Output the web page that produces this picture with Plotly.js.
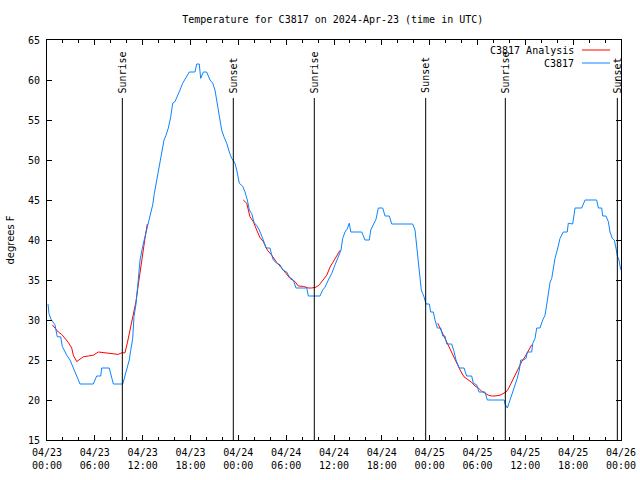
<!DOCTYPE html>
<html>
<head>
<meta charset="utf-8">
<script src="https://cdn.plot.ly/plotly-3.0.1.min.js"></script>
<style>html,body{margin:0;padding:0;background:#fff;}#chart{width:640px;height:480px;}</style>
</head>
<body>
<div id="chart"></div>
<script>
// Hours after 2024-04-23 00:00 UTC
const obsHour = [0.13,0.25,0.50,1.00,1.29,1.72,1.92,2.47,2.89,3.30,3.73,4.14,5.81,6.23,6.74,6.86,7.81,8.32,9.50,9.78,10.07,10.32,10.50,10.75,10.91,11.16,11.45,11.67,12.00,12.29,12.58,12.92,13.26,13.46,13.76,14.05,14.39,14.68,14.93,15.22,15.52,15.77,16.06,16.34,16.68,17.02,17.31,17.60,17.85,18.56,18.78,19.10,19.28,19.61,20.03,20.45,20.79,21.07,21.29,21.49,21.70,21.91,22.20,22.54,22.87,23.17,23.58,23.80,24.12,24.55,24.84,25.13,25.38,25.68,25.97,26.30,26.63,26.93,27.13,27.47,27.97,28.19,28.39,28.81,29.23,29.57,30.07,30.39,30.90,31.23,32.58,32.78,34.24,34.58,34.87,35.29,35.71,36.13,36.54,36.88,37.09,37.38,37.67,37.92,38.10,39.48,39.89,40.43,40.61,40.93,41.27,41.56,42.11,42.40,42.94,43.24,45.87,46.16,46.37,46.58,46.79,46.95,47.13,47.29,47.54,47.96,48.13,48.46,48.67,48.96,49.39,49.64,49.92,50.14,50.76,51.05,51.30,51.72,52.31,52.64,53.27,53.47,53.90,54.19,54.94,55.23,57.36,57.45,57.74,58.08,58.42,58.71,58.99,59.25,59.42,59.75,60.09,60.25,60.80,60.93,61.22,61.43,61.84,62.18,62.47,62.68,62.88,63.10,63.31,63.51,63.72,64.01,64.35,64.76,65.26,65.39,65.94,66.23,67.07,67.49,68.95,69.16,69.58,69.71,70.12,70.41,70.62,70.91,71.16,71.37,71.54,71.75,71.96];
const obsTempF = [32.0,30.8,30.1,29.4,27.9,27.9,26.7,25.6,25.0,24.0,22.9,22.0,22.0,23.0,23.0,24.0,24.0,22.0,22.0,23.0,24.0,25.0,26.2,27.7,30.4,32.0,35.0,37.5,39.2,40.4,41.7,43.1,44.4,45.8,47.5,49.2,50.6,52.5,53.1,54.0,55.4,57.1,57.3,57.9,58.75,59.6,60.1,60.6,61.0,61.0,62.0,62.0,60.2,61.0,61.0,60.0,59.6,58.75,57.5,56.25,55.0,53.75,52.9,52.1,51.0,50.2,49.6,48.75,47.1,46.7,46.0,45.0,43.75,43.3,42.2,41.8,41.25,40.6,40.0,39.0,39.0,38.1,37.5,37.1,36.9,36.25,36.0,35.4,35.0,34.0,34.0,33.0,33.0,33.75,34.1,35.0,35.8,36.9,37.9,38.75,40.2,41.0,41.4,42.1,41.0,41.0,40.0,40.0,41.25,42.0,42.6,44.0,44.0,43.0,43.0,42.0,42.0,41.25,39.2,37.1,35.4,33.75,33.3,32.9,32.0,32.0,31.0,31.0,30.0,29.0,29.0,28.0,28.0,27.0,27.0,26.1,25.0,24.0,24.0,23.0,23.0,22.1,21.9,21.0,21.0,20.0,20.0,19.5,19.0,20.0,21.0,21.7,22.7,23.75,25.0,25.0,25.2,26.0,26.0,27.1,27.7,29.0,29.0,30.0,30.6,31.9,33.3,34.7,35.2,36.4,37.7,38.75,40.2,41.0,41.0,42.1,42.0,44.0,44.0,45.0,45.0,44.0,44.0,43.0,43.0,42.3,41.0,40.2,40.0,39.0,38.0,37.5,36.3];

const anaHour = [0.66,1.42,1.84,2.26,2.67,3.10,3.30,3.73,4.14,4.55,5.18,5.81,6.44,7.28,8.12,8.94,9.37,9.78,10.07,10.32,10.62,10.95,11.16,11.45,11.67,12.00,12.29,12.58,18.0,
  24.62,25.05,25.46,25.88,26.30,26.72,27.13,27.63,28.19,28.81,29.44,29.98,30.48,31.11,31.52,32.15,32.78,33.20,33.74,34.16,34.66,35.09,35.50,35.91,36.34,36.75,42.0,
  49.01,49.30,49.64,50.05,50.47,50.77,51.05,51.47,51.89,52.31,52.85,53.27,53.69,54.10,54.53,54.94,55.36,55.78,56.20,56.83,57.24,57.58,57.87,58.29,58.71,59.13,59.55,59.96,60.38,60.80];
const anaTempF = [29.4,28.5,28.2,27.7,27.2,26.5,25.6,24.8,25.1,25.4,25.5,25.6,26.0,25.9,25.8,25.7,25.9,25.9,27.1,28.3,29.8,31.2,32.3,34.4,36.0,38.5,40.2,42.0,null,
  45.0,44.6,42.9,42.3,41.25,40.3,39.8,38.75,38.1,37.2,36.5,35.75,35.2,34.8,34.25,34.2,34.0,34.0,34.1,34.4,35.0,35.6,36.6,37.3,37.9,38.7,null,
  29.6,29.0,28.1,27.3,26.5,25.8,25.25,24.4,23.6,22.9,22.5,22.2,21.75,21.5,21.1,20.9,20.6,20.5,20.5,20.6,20.8,21.0,21.4,22.3,23.1,24.0,24.8,25.4,26.25,26.9];

const sunEventHour = [9.45, 23.37, 33.53, 47.50, 57.49, 71.54];
const sunEventName = ['Sunrise','Sunset','Sunrise','Sunset','Sunrise','Sunset'];

const seriesNames = ['C3817 Analysis', 'C3817'];
const seriesColors = ['#ff0000', '#0a84ff'];

function toDate(h) {
  const d = new Date(Date.UTC(2024, 3, 23) + Math.round(h * 3600000));
  const p = n => String(n).padStart(2, '0');
  return d.getUTCFullYear() + '-' + p(d.getUTCMonth() + 1) + '-' + p(d.getUTCDate()) + ' ' +
         p(d.getUTCHours()) + ':' + p(d.getUTCMinutes()) + ':' + p(d.getUTCSeconds());
}

const FONT = 'DejaVu Sans Mono, Liberation Mono, monospace';

const traces = [
  {x: anaHour.map(toDate), y: anaTempF, type: 'scatter', mode: 'lines', name: seriesNames[0],
   line: {color: seriesColors[0], width: 1}, connectgaps: false, showlegend: false},
  {x: obsHour.map(toDate), y: obsTempF, type: 'scatter', mode: 'lines', name: seriesNames[1],
   line: {color: seriesColors[1], width: 1}, showlegend: false}
];

const shapes = [];
const annotations = [];
sunEventHour.forEach((h, i) => {
  shapes.push({type: 'line', xref: 'x', yref: 'paper', x0: toDate(h), x1: toDate(h), y0: 0, y1: 0.855,
               line: {color: '#000', width: 1}});
  annotations.push({xref: 'x', yref: 'paper', x: toDate(h), y: 0.862, text: sunEventName[i],
                    textangle: -90, showarrow: false, xanchor: 'center', yanchor: 'bottom',
                    font: {family: FONT, size: 10, color: '#000'}});
});
// Legend (text right-aligned, sample line to the right, as in reference)
const legY = [0.975, 0.9425];
seriesNames.forEach((n, i) => {
  annotations.push({xref: 'paper', yref: 'paper', x: 0.921, y: legY[i], text: n, showarrow: false,
                    xanchor: 'right', yanchor: 'middle', font: {family: FONT, size: 10, color: '#000'}});
  shapes.push({type: 'line', xref: 'paper', yref: 'paper', x0: 0.932, x1: 0.981, y0: legY[i], y1: legY[i],
               line: {color: seriesColors[i], width: 1}});
});

const layout = {
  width: 640, height: 480,
  margin: {l: 47, r: 19, t: 40, b: 40, pad: 0},
  paper_bgcolor: '#fff', plot_bgcolor: '#fff',
  font: {family: FONT, size: 10, color: '#000'},
  title: {text: 'Temperature for C3817 on 2024-Apr-23 (time in UTC)', x: 0.52, xanchor: 'center',
          y: 0.96, yanchor: 'middle', font: {family: FONT, size: 10, color: '#000'}},
  showlegend: false,
  xaxis: {
    type: 'date', range: ['2024-04-23 00:00:00', '2024-04-26 00:00:00'],
    dtick: 6 * 3600000, tick0: '2024-04-23 00:00:00', tickformat: '%m/%d<br>%H:%M',
    ticks: 'inside', ticklen: 5, tickcolor: '#000', tickwidth: 1,
    minor: {dtick: 2 * 3600000, ticks: 'inside', ticklen: 3, tickcolor: '#000', tickwidth: 1, showgrid: false},
    showline: true, linecolor: '#000', linewidth: 1, mirror: 'allticks',
    showgrid: false, zeroline: false, ticklabelstandoff: 3,
    tickfont: {family: FONT, size: 10, color: '#000'}
  },
  yaxis: {
    range: [15, 65], dtick: 5, ticks: 'inside', ticklen: 5, tickcolor: '#000',
    showline: true, linecolor: '#000', linewidth: 1, mirror: 'allticks',
    showgrid: false, zeroline: false, ticklabelstandoff: 4,
    tickfont: {family: FONT, size: 10, color: '#000'},
    title: {text: 'degrees F', standoff: 11, font: {family: 'DejaVu Sans, sans-serif', size: 10, color: '#000'}}
  },
  shapes: shapes,
  annotations: annotations
};

Plotly.newPlot('chart', traces, layout, {staticPlot: true, displayModeBar: false});
</script>
</body>
</html>
